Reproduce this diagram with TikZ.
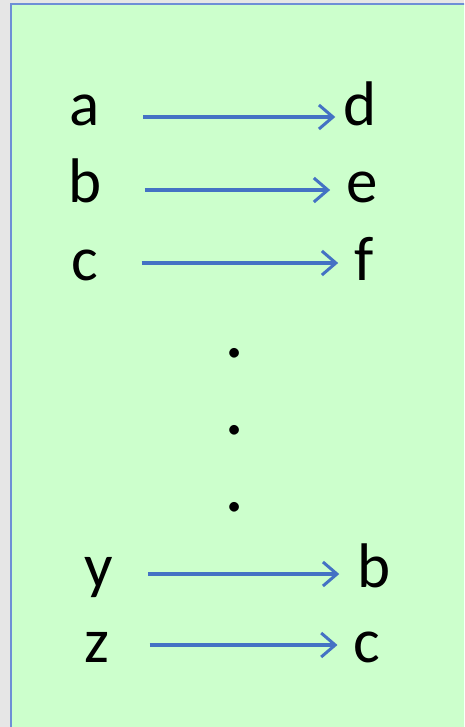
\documentclass[tikz,border=0pt]{standalone}
\usepackage{fontspec}
\setmainfont{Carlito}
\usetikzlibrary{arrows.meta}
\definecolor{bggray}{HTML}{E6E6E6}
\definecolor{panelgreen}{HTML}{CCFFCC}
\definecolor{panelblue}{HTML}{6E8FD6}
\definecolor{arrowblue}{HTML}{4472C4}

\begin{document}
\begin{tikzpicture}[x=1pt,y=-1pt,
    letter/.style={inner sep=0pt, anchor=base, text height=44pt, text depth=20pt,
      font=\fontsize{63pt}{63pt}\selectfont},
    dotmark/.style={inner sep=0pt, anchor=base, font=\fontsize{80pt}{80pt}\selectfont},
    mapsto/.style={draw=arrowblue, line width=3.2pt,
      -{Straight Barb[length=14pt,width=24pt,line width=3pt]}}]
    % page and panel
    \useasboundingbox (0,0) rectangle (464,727);
    \clip (0,0) rectangle (464,727);
    \fill[bggray] (0,0) rectangle (464,727);
    \fill[panelgreen] (10.5,4.5) rectangle (470,735);
    \draw[panelblue, line width=2pt] (10.5,735) -- (10.5,4.5) -- (470,4.5);

    % letters on the left
    \node[letter] (a) at (85,126) {a};
    \node[letter] (b) at (85,203) {b};
    \node[letter] (c) at (85,280) {c};
    \node[letter] (y) at (99,587) {y};
    \node[letter] (z) at (97,662) {z};

    % letters on the right
    \node[letter] (d) at (360,126) {d};
    \node[letter] (e) at (362,203) {e};
    \node[letter] (f) at (364,280) {f};
    \node[letter] (b2) at (374,587) {b};
    \node[letter] (c2) at (367,662) {c};

    % the dots
    \node[dotmark] (dot1) at (235,357) {.};
    \node[dotmark] (dot2) at (235,434) {.};
    \node[dotmark] (dot3) at (235,511) {.};

    % arrows
    \draw[mapsto] ([xshift=43pt,yshift=-3pt]a.east) -- ([xshift=-8pt,yshift=-3pt]d.west);
    \draw[mapsto] ([xshift=43pt,yshift=1pt]b.east) -- ([xshift=-16pt,yshift=1pt]e.west);
    \draw[mapsto] ([xshift=43pt,yshift=5pt]c.east) -- ([xshift=-16pt,yshift=5pt]f.west);
    \draw[mapsto] ([xshift=35pt,yshift=1pt]y.east) -- ([xshift=-18pt,yshift=1pt]b2.west);
    \draw[mapsto] ([xshift=40pt,yshift=5pt]z.east) -- ([xshift=-16pt,yshift=5pt]c2.west);
\end{tikzpicture}
\end{document}
